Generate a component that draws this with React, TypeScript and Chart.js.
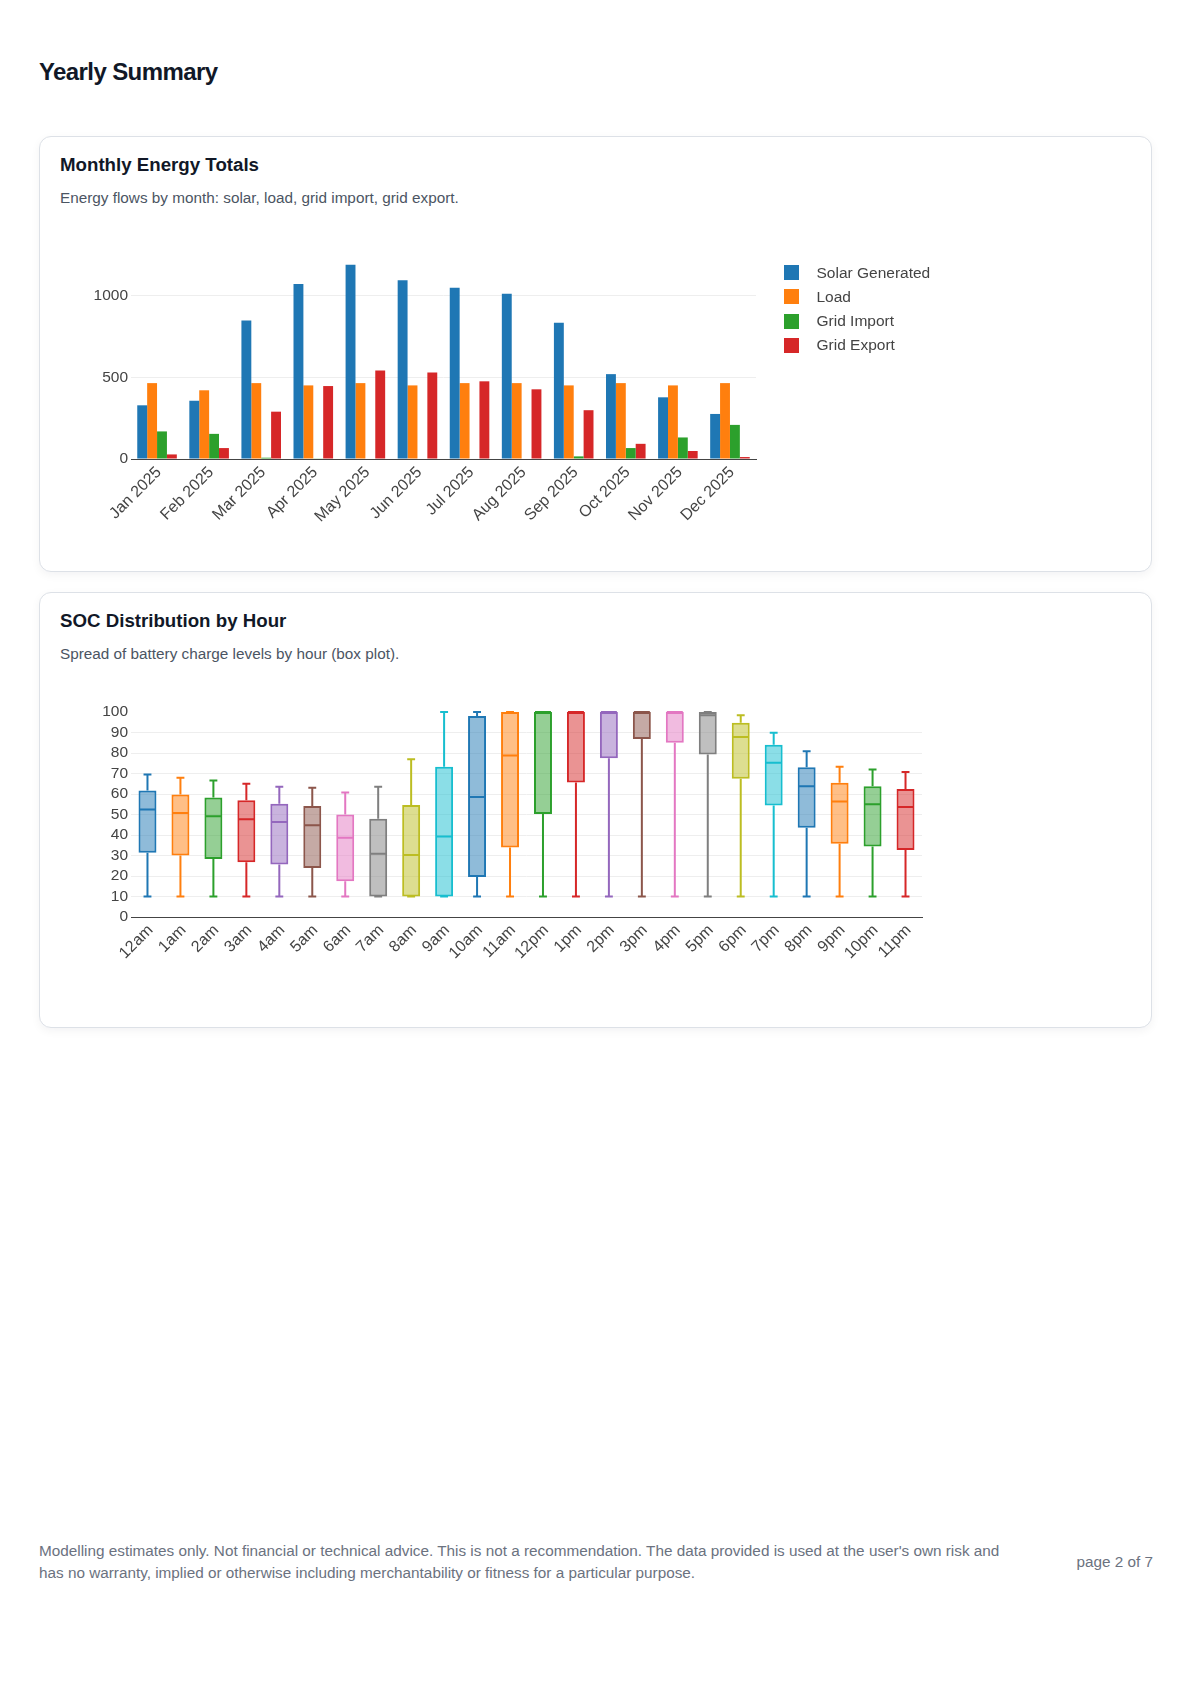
import { useEffect, useRef } from 'react';
import { Chart, registerables } from 'chart.js';

Chart.register(...registerables);

const FONT = "'Liberation Sans', Arial, Helvetica, sans-serif";
const AXIS_TEXT = '#444';

// Monthly energy totals (kWh)
const months = ['Jan 2025', 'Feb 2025', 'Mar 2025', 'Apr 2025', 'May 2025', 'Jun 2025',
  'Jul 2025', 'Aug 2025', 'Sep 2025', 'Oct 2025', 'Nov 2025', 'Dec 2025'];
const solarGenerated = [329, 357, 849, 1073, 1191, 1096, 1049, 1012, 835, 520, 378, 276];
const load = [465, 421, 465, 451, 465, 451, 465, 465, 451, 465, 451, 465];
const gridImport = [169, 154, 8, 2, 0, 0, 0, 0, 16, 67, 132, 209];
const gridExport = [28, 67, 290, 447, 543, 530, 476, 427, 299, 93, 49, 12];
const energyTicks = [0, 500, 1000];

// SOC distribution by hour (%)
const hours = ['12am', '1am', '2am', '3am', '4am', '5am', '6am', '7am', '8am', '9am', '10am', '11am',
  '12pm', '1pm', '2pm', '3pm', '4pm', '5pm', '6pm', '7pm', '8pm', '9pm', '10pm', '11pm'];
const socMin = [10, 10, 10, 10, 10, 10, 10, 10, 10, 10, 10, 10, 10, 10, 10, 10, 10, 10, 10, 10, 10, 10, 10, 10];
const socQ1 = [31.3, 30, 28.3, 26.7, 25.6, 23.9, 17.4, 10, 10, 10, 19.5, 33.9,
  50.2, 65.6, 77.5, 86.8, 85, 79.3, 67.4, 54.4, 43.5, 35.7, 34.4, 32.7];
const socMedian = [52.4, 50.7, 49.2, 47.7, 46.3, 44.8, 38.6, 30.9, 30.3, 39.3, 58.5, 78.8,
  100, 100, 100, 100, 100, 98.4, 87.8, 75.2, 63.8, 56.4, 55, 53.6];
const socQ3 = [61.7, 59.8, 58.3, 57, 55.2, 54.2, 50, 47.9, 54.6, 73.3, 98, 100,
  100, 100, 100, 100, 100, 100, 94.8, 84, 73, 65.5, 63.8, 62.4];
const socMax = [69.5, 67.9, 66.6, 65, 63.5, 63, 60.7, 63.5, 76.9, 100, 100, 100,
  100, 100, 100, 100, 100, 100, 98.4, 89.9, 80.8, 73.3, 72, 70.7];
const socTicks = [0, 10, 20, 30, 40, 50, 60, 70, 80, 90, 100];

const palette = ['#1f77b4', '#ff7f0e', '#2ca02c', '#d62728', '#9467bd',
  '#8c564b', '#e377c2', '#7f7f7f', '#bcbd22', '#17becf'];

const energySeries = [
  { label: 'Solar Generated', data: solarGenerated, color: palette[0] },
  { label: 'Load', data: load, color: palette[1] },
  { label: 'Grid Import', data: gridImport, color: palette[2] },
  { label: 'Grid Export', data: gridExport, color: palette[3] },
];

function alpha(hex: string, a: number) {
  const n = parseInt(hex.slice(1), 16);
  return `rgba(${(n >> 16) & 255}, ${(n >> 8) & 255}, ${n & 255}, ${a})`;
}

const xTickFont = { family: FONT, size: 16 };
const yTickFont = { family: FONT, size: 15.5 };

function EnergyChart() {
  const canvasRef = useRef<HTMLCanvasElement>(null);

  useEffect(() => {
    if (!canvasRef.current) return;
    const chart = new Chart(canvasRef.current, {
      type: 'bar',
      data: {
        labels: months,
        datasets: energySeries.map((s) => ({
          label: s.label,
          data: s.data,
          backgroundColor: s.color,
          borderWidth: 0,
          categoryPercentage: 0.76,
          barPercentage: 1,
        })),
      },
      options: {
        responsive: false,
        animation: false,
        layout: { padding: { top: 41, right: 376, left: 0, bottom: 0 } },
        plugins: { legend: { display: false }, tooltip: { enabled: false } },
        scales: {
          x: {
            grid: { display: false },
            border: { color: '#444', width: 1 },
            ticks: {
              color: AXIS_TEXT, font: xTickFont, minRotation: 45, maxRotation: 45,
              autoSkip: false, padding: -4, labelOffset: 2,
            },
            afterFit: (s: any) => { s.height = 92; },
          },
          y: {
            min: 0,
            max: 1250,
            border: { display: false },
            grid: {
              drawTicks: false,
              color: (c: any) => (c.tick && c.tick.value === 0 ? 'rgba(0,0,0,0)' : '#eeeeee'),
            },
            ticks: {
              color: AXIS_TEXT, font: yTickFont, padding: 3, includeBounds: false,
              autoSkip: false, callback: (v: any) => String(v),
            },
            afterBuildTicks: (s: any) => { s.ticks = energyTicks.map((v) => ({ value: v })); },
            afterFit: (s: any) => { s.width = 71; },
          },
        },
      },
    });
    return () => chart.destroy();
  }, []);

  return <canvas ref={canvasRef} width={1072} height={337} style={{ display: 'block', marginTop: 9 }} />;
}

const boxWhiskers = {
  id: 'boxWhiskers',
  afterDatasetsDraw(chart: any) {
    const ctx = chart.ctx;
    const y = chart.scales.y;
    const meta = chart.getDatasetMeta(0);
    meta.data.forEach((bar: any, i: number) => {
      const { x, width } = bar.getProps(['x', 'width'], true);
      const color = palette[i % palette.length];
      const half = width / 2 - 1;
      const cap = width * 0.22;
      const yMin = y.getPixelForValue(socMin[i]);
      const yQ1 = y.getPixelForValue(socQ1[i]);
      const yMed = y.getPixelForValue(socMedian[i]);
      const yQ3 = y.getPixelForValue(socQ3[i]);
      const yMax = y.getPixelForValue(socMax[i]);
      ctx.save();
      ctx.strokeStyle = color;
      ctx.lineWidth = 2;
      ctx.beginPath();
      ctx.moveTo(x, yQ3);
      ctx.lineTo(x, yMax);
      ctx.moveTo(x, yQ1);
      ctx.lineTo(x, yMin);
      ctx.moveTo(x - cap, yMax);
      ctx.lineTo(x + cap, yMax);
      ctx.moveTo(x - cap, yMin);
      ctx.lineTo(x + cap, yMin);
      ctx.moveTo(x - half, yMed);
      ctx.lineTo(x + half, yMed);
      ctx.stroke();
      ctx.restore();
    });
  },
};

function SocChart() {
  const canvasRef = useRef<HTMLCanvasElement>(null);

  useEffect(() => {
    if (!canvasRef.current) return;
    const chart = new Chart(canvasRef.current, {
      type: 'bar',
      data: {
        labels: hours,
        datasets: [{
          label: 'SOC',
          data: hours.map((_, i) => [socQ1[i], socQ3[i]]),
          backgroundColor: hours.map((_, i) => alpha(palette[i % palette.length], 0.5)),
          borderColor: hours.map((_, i) => palette[i % palette.length]),
          borderWidth: 2,
          borderSkipped: false,
          categoryPercentage: 1,
          barPercentage: 0.545,
          clip: false,
        }],
      },
      options: {
        responsive: false,
        animation: false,
        layout: { padding: { top: 42, right: 210, left: 0, bottom: 0 } },
        plugins: { legend: { display: false }, tooltip: { enabled: false } },
        scales: {
          x: {
            grid: { display: false },
            border: { color: '#444', width: 1 },
            ticks: {
              color: AXIS_TEXT, font: xTickFont, minRotation: 45, maxRotation: 45,
              autoSkip: false, padding: -4, labelOffset: 3,
            },
            afterFit: (s: any) => { s.height = 90; },
          },
          y: {
            min: 0,
            max: 100,
            border: { display: false },
            grid: {
              drawTicks: false,
              color: (c: any) => (c.tick && (c.tick.value === 0 || c.tick.value === 100) ? 'rgba(0,0,0,0)' : '#eeeeee'),
            },
            ticks: { color: AXIS_TEXT, font: yTickFont, padding: 3, autoSkip: false },
            afterBuildTicks: (s: any) => { s.ticks = socTicks.map((v) => ({ value: v })); },
            afterFit: (s: any) => { s.width = 71; },
          },
        },
      },
      plugins: [boxWhiskers],
    });
    return () => chart.destroy();
  }, []);

  return <canvas ref={canvasRef} width={1072} height={337} style={{ display: 'block', marginTop: 9 }} />;
}

const cardStyle: React.CSSProperties = {
  position: 'relative',
  boxSizing: 'border-box',
  height: 436,
  border: '1px solid #dde1e7',
  borderRadius: 12,
  background: '#fff',
  boxShadow: '0 3px 10px rgba(15, 23, 42, 0.05)',
  padding: '19px 20px 20px',
};

const cardTitle: React.CSSProperties = {
  fontSize: 18.7, lineHeight: '18px', fontWeight: 700, color: '#111827',
};

const cardSub: React.CSSProperties = {
  marginTop: 16, fontSize: 15.3, lineHeight: '15px', color: '#4b5563',
};

export default function App() {
  return (
    <div style={{
      position: 'relative', width: 1190, height: 1684, boxSizing: 'border-box',
      padding: '0 38px 0 39px', fontFamily: FONT, background: '#fff',
    }}>
      <style>{'body { margin: 0; }'}</style>
      <div style={{
        paddingTop: 60, fontSize: 24, lineHeight: '24px', fontWeight: 700,
        color: '#111827', letterSpacing: '-0.6px',
      }}>
        Yearly Summary
      </div>

      <div style={{ ...cardStyle, marginTop: 52 }}>
        <div style={cardTitle}>Monthly Energy Totals</div>
        <div style={cardSub}>Energy flows by month: solar, load, grid import, grid export.</div>
        <EnergyChart />
        <div style={{ position: 'absolute', left: 743.5, top: 123.5 }}>
          {energySeries.map((s) => (
            <div key={s.label} style={{ display: 'flex', alignItems: 'center', height: 24.25 }}>
              <span style={{ width: 15, height: 15, background: s.color, display: 'inline-block' }} />
              <span style={{ marginLeft: 18, fontSize: 15.5, color: '#444' }}>{s.label}</span>
            </div>
          ))}
        </div>
      </div>

      <div style={{ ...cardStyle, marginTop: 20 }}>
        <div style={cardTitle}>SOC Distribution by Hour</div>
        <div style={cardSub}>Spread of battery charge levels by hour (box plot).</div>
        <SocChart />
      </div>

      <div style={{
        position: 'absolute', left: 39, right: 37, top: 1540,
        display: 'flex', justifyContent: 'space-between', alignItems: 'center',
        fontSize: 15.3, lineHeight: '22px', color: '#6b7280',
      }}>
        <div style={{ width: 975 }}>
          Modelling estimates only. Not financial or technical advice. This is not a recommendation. The data provided is used at the user's own risk and has no warranty, implied or otherwise including merchantability or fitness for a particular purpose.
        </div>
        <div>page 2 of 7</div>
      </div>
    </div>
  );
}
